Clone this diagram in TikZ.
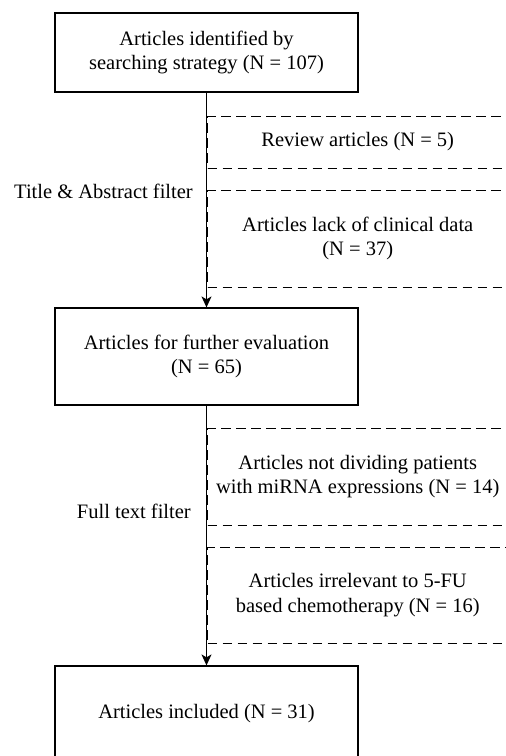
\documentclass[tikz,border=0pt]{standalone}
\usepackage{fontspec}
\setmainfont{Liberation Serif}
\usetikzlibrary{arrows.meta}
\begin{document}
\begin{tikzpicture}[x=1pt,y=-1pt,
  every node/.style={font=\fontsize{20.5}{24.5}\selectfont, inner sep=0pt, align=center},
  mainbox/.style={draw, line width=1.2pt, minimum width=303pt},
  exclbox/.style={draw, dashed, dash pattern=on 9.5pt off 5.5pt, line width=1pt, minimum width=300.5pt},
  flow/.style={line width=1.2pt, -{Stealth[length=11pt,width=10pt,inset=3pt]}},
  filterlabel/.style={anchor=base east}]
\clip (0,0) rectangle (506,756);
% main boxes
\node[mainbox, minimum height=79pt] (b1) at (206.5,52.5) {Articles identified by\\searching strategy (N = 107)};
\node[mainbox, minimum height=97pt] (b2) at (206.5,356.5) {Articles for further evaluation\\(N = 65)};
\node[mainbox, minimum height=96pt] (b3) at (206.5,714) {Articles included (N = 31)};
% exclusion boxes
\node[exclbox, minimum height=52pt] (e1) at (357.75,142) {Review articles (N = 5)};
\node[exclbox, minimum height=97pt] (e2) at (357.75,238.5) {Articles lack of clinical data\\(N = 37)};
\node[exclbox, minimum height=97pt] (e3) at (357.75,476.5) {\raisebox{-3pt}{\begin{tabular}{@{}c@{}}Articles not dividing patients\\with miRNA expressions (N = 14)\end{tabular}}};
\node[exclbox, minimum height=96pt] (e4) at (357.75,595) {Articles irrelevant to 5-FU\\based chemotherapy (N = 16)};
% filter labels
\node[filterlabel] (f1) at (193,198) {Title \& Abstract filter};
\node[filterlabel] (f2) at (191,518) {Full text filter};
% connectors
\draw[flow] (b1.south) -- (b2.north);
\draw[flow] (b2.south) -- (b3.north);
\end{tikzpicture}
\end{document}
